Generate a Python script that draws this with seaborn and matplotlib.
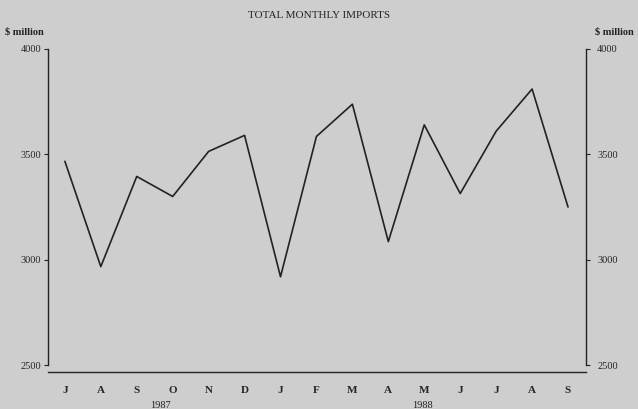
import numpy as np
import pandas as pd
import matplotlib.pyplot as plt
import seaborn as sns

# ******************* Data
months = ["J", "A", "S", "O", "N", "D", "J", "F", "M", "A", "M", "J", "J", "A", "S"]
imports = [3467, 2967, 3395, 3300, 3514, 3590, 2919, 3585, 3738, 3086, 3640, 3314, 3610, 3810, 3250]
y_ticks = [2500, 3000, 3500, 4000]
years = ["1987", "1988"]
year_pos = [2.65, 9.95]

df = pd.DataFrame({"pos": np.arange(len(months)), "imports": imports})

# ******************* Style
sns.set_style("white")
plt.rcParams["font.family"] = ["Liberation Serif", "DejaVu Serif"]
bg = "#cecece"
ink = "#222222"

fig = plt.figure(figsize=(6.38, 4.09), dpi=100, facecolor=bg)
ax = fig.add_axes([0.0752, 0.0905, 0.8433, 0.7897], facecolor=bg)

sns.lineplot(data=df, x="pos", y="imports", ax=ax, color=ink, linewidth=1.2)

ax.set_xlim(-0.47, 14.5)
ax.set_ylim(2467, 4000)

# x axis
ax.set_xticks(df["pos"])
ax.set_xticklabels(months, fontsize=8, fontweight="bold")
ax.tick_params(axis="x", direction="in", length=3, width=0.8, color=ink, pad=10)
ax.set_xlabel("")
ax.set_ylabel("")

# left axis
ax.set_yticks(y_ticks)
ax.set_yticklabels([str(v) for v in y_ticks], fontsize=7.5)
ax.tick_params(axis="y", direction="out", length=3, width=0.8, color=ink, pad=2)

for side in ["left", "right", "bottom"]:
    ax.spines[side].set_color(ink)
    ax.spines[side].set_linewidth(1.0)
ax.spines["top"].set_visible(False)
ax.spines["right"].set_visible(False)
ax.spines["left"].set_bounds(2500, 4000)

# right axis
ax2 = ax.twinx()
ax2.set_ylim(ax.get_ylim())
ax2.set_yticks(y_ticks)
ax2.set_yticklabels([str(v) for v in y_ticks], fontsize=7.5)
ax2.tick_params(axis="y", direction="out", length=3, width=0.8, color=ink, pad=5)
for side in ["left", "top", "bottom"]:
    ax2.spines[side].set_visible(False)
ax2.spines["right"].set_color(ink)
ax2.spines["right"].set_linewidth(1.0)
ax2.spines["right"].set_bounds(2500, 4000)

# years under the month labels
for yr, p in zip(years, year_pos):
    ax.text(p, -0.09, yr, transform=ax.get_xaxis_transform(), ha="center", va="top",
            fontsize=7.5, color=ink)

# titles
fig.text(0.5, 0.963, "TOTAL MONTHLY IMPORTS", ha="center", va="center", fontsize=8, color=ink)
fig.text(0.008, 0.922, "$ million", ha="left", va="center", fontsize=7.5, fontweight="bold", color=ink)
fig.text(0.933, 0.922, "$ million", ha="left", va="center", fontsize=7.5, fontweight="bold", color=ink)

plt.savefig("out.png", dpi=100, facecolor=bg)
